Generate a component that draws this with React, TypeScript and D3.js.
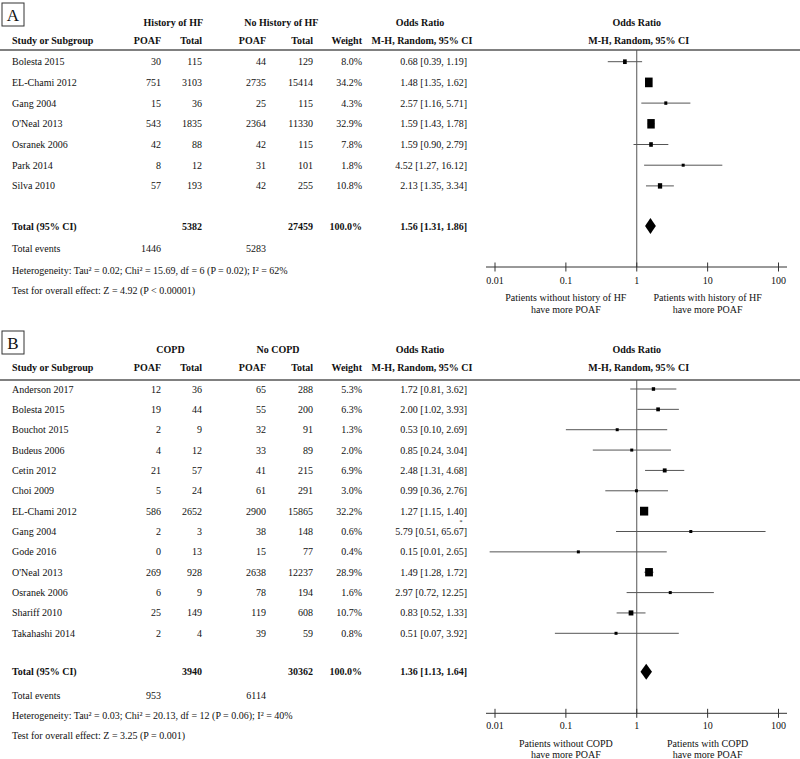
import React from "react";
import * as d3 from "d3";

// ---------- Panel A data ----------
const studiesA = ["Bolesta 2015", "EL-Chami 2012", "Gang 2004", "O'Neal 2013", "Osranek 2006", "Park 2014", "Silva 2010"];
const eventsExpA = [30, 751, 15, 543, 42, 8, 57];
const totalExpA = [115, 3103, 36, 1835, 88, 12, 193];
const eventsCtlA = [44, 2735, 25, 2364, 42, 31, 42];
const totalCtlA = [129, 15414, 115, 11330, 115, 101, 255];
const weightA = [8.0, 34.2, 4.3, 32.9, 7.8, 1.8, 10.8];
const orA = [0.68, 1.48, 2.57, 1.59, 1.59, 4.52, 2.13];
const lowA = [0.39, 1.35, 1.16, 1.43, 0.9, 1.27, 1.35];
const highA = [1.19, 1.62, 5.71, 1.78, 2.79, 16.12, 3.34];
const pooledA = { or: 1.56, low: 1.31, high: 1.86, nExp: 5382, nCtl: 27459, evExp: 1446, evCtl: 5283 };
const hetA = "Heterogeneity: Tau² = 0.02; Chi² = 15.69, df = 6 (P = 0.02); I² = 62%";
const testA = "Test for overall effect: Z = 4.92 (P < 0.00001)";

// ---------- Panel B data ----------
const studiesB = ["Anderson 2017", "Bolesta 2015", "Bouchot 2015", "Budeus 2006", "Cetin 2012", "Choi 2009", "EL-Chami 2012", "Gang 2004", "Gode 2016", "O'Neal 2013", "Osranek 2006", "Shariff 2010", "Takahashi 2014"];
const eventsExpB = [12, 19, 2, 4, 21, 5, 586, 2, 0, 269, 6, 25, 2];
const totalExpB = [36, 44, 9, 12, 57, 24, 2652, 3, 13, 928, 9, 149, 4];
const eventsCtlB = [65, 55, 32, 33, 41, 61, 2900, 38, 15, 2638, 78, 119, 39];
const totalCtlB = [288, 200, 91, 89, 215, 291, 15865, 148, 77, 12237, 194, 608, 59];
const weightB = [5.3, 6.3, 1.3, 2.0, 6.9, 3.0, 32.2, 0.6, 0.4, 28.9, 1.6, 10.7, 0.8];
const orB = [1.72, 2.0, 0.53, 0.85, 2.48, 0.99, 1.27, 5.79, 0.15, 1.49, 2.97, 0.83, 0.51];
const lowB = [0.81, 1.02, 0.1, 0.24, 1.31, 0.36, 1.15, 0.51, 0.0084, 1.28, 0.72, 0.52, 0.07];
const highB = [3.62, 3.93, 2.69, 3.04, 4.68, 2.76, 1.4, 65.67, 2.65, 1.72, 12.25, 1.33, 3.92];
const pooledB = { or: 1.36, low: 1.13, high: 1.64, nExp: 3940, nCtl: 30362, evExp: 953, evCtl: 6114 };
const hetB = "Heterogeneity: Tau² = 0.03; Chi² = 20.13, df = 12 (P = 0.06); I² = 40%";
const testB = "Test for overall effect: Z = 3.25 (P = 0.001)";

const axisTicks = [0.01, 0.1, 1, 10, 100];

const FONT = "'Liberation Serif', 'Times New Roman', Times, serif";
const INK = "#111";
const GREY = "#555";

const x = d3.scaleLog().domain([0.01, 100]).range([495, 778.5]);

const fmt = (v: number) => v.toFixed(2);
const ciText = (o: number, l: number, h: number) => `${fmt(o)} [${fmt(l)}, ${fmt(h)}]`;

type PanelProps = {
  letter: string;
  groupExp: string;
  groupCtl: string;
  groupExpX: number;
  groupCtlX: number;
  studies: string[];
  evE: number[];
  nE: number[];
  evC: number[];
  nC: number[];
  weight: number[];
  or: number[];
  low: number[];
  high: number[];
  pooled: { or: number; low: number; high: number; nExp: number; nCtl: number; evExp: number; evCtl: number };
  het: string;
  test: string;
  noteLeft: string;
  noteRight: string;
  g: {
    boxY: number; h1: number; h2: number; line: number; first: number; last: number;
    total: number; events: number; het: number; test: number; axis: number; tickLab: number; n1: number; n2: number;
    sqW: number; sqH: number;
  };
  marks?: { row: number; dx: number; dy: number }[];
};

const col = { study: 12, evE: 161, nE: 202, evC: 266, nC: 313, w: 362, ci: 467, ciHead: 420 };

function Panel(p: PanelProps) {
  const g = p.g;
  const y = d3.scalePoint<string>().domain(p.studies).range([g.first, g.last]);
  const T = (props: any) => (
    <text fontFamily={FONT} fontSize={10} fill={INK} dy="0.35em" {...props} />
  );
  const d = p.pooled;
  const dh = 8;
  const diamond = `M${x(d.low)},${g.total} L${x(d.or)},${g.total - dh} L${x(d.high)},${g.total} L${x(d.or)},${g.total + dh} Z`;
  return (
    <g>
      {/* panel letter box */}
      <rect x={2} y={g.boxY} width={22} height={23} fill="white" stroke="#333" strokeWidth={1} />
      <text x={13} y={g.boxY + 11.5} dy="0.36em" textAnchor="middle" fontFamily={FONT} fontSize={17} fill={INK}>{p.letter}</text>

      {/* header row 1 */}
      <T x={p.groupExpX} y={g.h1} textAnchor="middle" fontWeight="bold">{p.groupExp}</T>
      <T x={p.groupCtlX} y={g.h1} textAnchor="middle" fontWeight="bold">{p.groupCtl}</T>
      <T x={col.ciHead} y={g.h1} textAnchor="middle" fontWeight="bold">Odds Ratio</T>
      <T x={x(1)} y={g.h1} textAnchor="middle" fontWeight="bold">Odds Ratio</T>
      {/* header row 2 */}
      <T x={col.study} y={g.h2} fontWeight="bold">Study or Subgroup</T>
      <T x={col.evE} y={g.h2} textAnchor="end" fontWeight="bold">POAF</T>
      <T x={col.nE} y={g.h2} textAnchor="end" fontWeight="bold">Total</T>
      <T x={col.evC} y={g.h2} textAnchor="end" fontWeight="bold">POAF</T>
      <T x={col.nC} y={g.h2} textAnchor="end" fontWeight="bold">Total</T>
      <T x={col.w} y={g.h2} textAnchor="end" fontWeight="bold">Weight</T>
      <T x={col.ciHead + 2} y={g.h2} textAnchor="middle" fontWeight="bold">M-H, Random, 95% CI</T>
      <T x={x(1) + 2} y={g.h2} textAnchor="middle" fontWeight="bold">M-H, Random, 95% CI</T>

      <line x1={0} x2={800} y1={g.line} y2={g.line} stroke="#808080" strokeWidth={2} />

      {/* line of no effect */}
      <line x1={x(1)} x2={x(1)} y1={g.line} y2={g.axis} stroke={GREY} strokeWidth={1} />

      {/* study rows */}
      {p.studies.map((s, i) => {
        const yy = y(s) as number;
        const side = Math.max(3, g.sqW * Math.sqrt(p.weight[i]));
        const sh = Math.max(3, g.sqH * Math.sqrt(p.weight[i]));
        return (
          <g key={s + i}>
            <T x={col.study} y={yy}>{s}</T>
            <T x={col.evE} y={yy} textAnchor="end">{p.evE[i]}</T>
            <T x={col.nE} y={yy} textAnchor="end">{p.nE[i]}</T>
            <T x={col.evC} y={yy} textAnchor="end">{p.evC[i]}</T>
            <T x={col.nC} y={yy} textAnchor="end">{p.nC[i]}</T>
            <T x={col.w} y={yy} textAnchor="end">{p.weight[i].toFixed(1)}%</T>
            <T x={col.ci} y={yy} textAnchor="end">{ciText(p.or[i], p.low[i], p.high[i])}</T>
            <line x1={x(p.low[i])} x2={x(p.high[i])} y1={yy} y2={yy} stroke={GREY} strokeWidth={1} />
            <rect x={x(p.or[i]) - side / 2} y={yy - sh / 2} width={side} height={sh} fill="#000" />
          </g>
        );
      })}
      {(p.marks || []).map((m, k) => (
        <text key={"m" + k} x={col.ci + m.dx} y={(y(p.studies[m.row]) as number) + m.dy} dy="0.35em" textAnchor="middle" fontFamily={FONT} fontSize={6} fill={INK}>*</text>
      ))}

      {/* total row */}
      <T x={col.study} y={g.total} fontWeight="bold">Total (95% CI)</T>
      <T x={col.nE} y={g.total} textAnchor="end" fontWeight="bold">{d.nExp}</T>
      <T x={col.nC} y={g.total} textAnchor="end" fontWeight="bold">{d.nCtl}</T>
      <T x={col.w} y={g.total} textAnchor="end" fontWeight="bold">100.0%</T>
      <T x={col.ci} y={g.total} textAnchor="end" fontWeight="bold">{ciText(d.or, d.low, d.high)}</T>
      <path d={diamond} fill="#000" />

      <T x={col.study} y={g.events}>Total events</T>
      <T x={col.evE} y={g.events} textAnchor="end">{d.evExp}</T>
      <T x={col.evC} y={g.events} textAnchor="end">{d.evCtl}</T>
      <T x={col.study} y={g.het}>{p.het}</T>
      <T x={col.study} y={g.test}>{p.test}</T>

      {/* axis */}
      <line x1={486} x2={787} y1={g.axis} y2={g.axis} stroke="#333" strokeWidth={1} />
      {axisTicks.map((t) => (
        <g key={t}>
          <line x1={x(t)} x2={x(t)} y1={g.axis - 4.5} y2={g.axis + 4.5} stroke="#333" strokeWidth={1} />
          <T x={x(t)} y={g.tickLab} textAnchor="middle">{String(t)}</T>
        </g>
      ))}
      <T x={x(0.1)} y={g.n1} textAnchor="middle">{p.noteLeft}</T>
      <T x={x(0.1)} y={g.n2} textAnchor="middle">have more POAF</T>
      <T x={x(10)} y={g.n1} textAnchor="middle">{p.noteRight}</T>
      <T x={x(10)} y={g.n2} textAnchor="middle">have more POAF</T>
    </g>
  );
}

export default function App() {
  return (
    <svg width={800} height={759} style={{ position: "absolute", left: 0, top: 0, background: "#fff" }}>
      <rect x={0} y={0} width={800} height={759} fill="#fff" />
      <Panel
        letter="A"
        groupExp="History of HF"
        groupCtl="No History of HF"
        groupExpX={173.3}
        groupCtlX={281.3}
        studies={studiesA}
        evE={eventsExpA}
        nE={totalExpA}
        evC={eventsCtlA}
        nC={totalCtlA}
        weight={weightA}
        or={orA}
        low={lowA}
        high={highA}
        pooled={pooledA}
        het={hetA}
        test={testA}
        noteLeft="Patients without history of HF"
        noteRight="Patients with history of HF"
        g={{ boxY: 3, h1: 22, h2: 40, line: 50, first: 61.7, last: 185.9, total: 226, events: 248.3, het: 270, test: 290, axis: 267, tickLab: 280, n1: 297.5, n2: 309.5, sqW: 1.3, sqH: 1.65 }}
      />
      <Panel
        letter="B"
        groupExp="COPD"
        groupCtl="No COPD"
        groupExpX={170.5}
        groupCtlX={278}
        studies={studiesB}
        evE={eventsExpB}
        nE={totalExpB}
        evC={eventsCtlB}
        nC={totalCtlB}
        weight={weightB}
        or={orB}
        low={lowB}
        high={highB}
        pooled={pooledB}
        het={hetB}
        test={testB}
        noteLeft="Patients without COPD"
        noteRight="Patients with COPD"
        marks={[{ row: 7, dx: -6, dy: -10 }]}
        g={{ boxY: 331, h1: 349.3, h2: 367.3, line: 380, first: 389, last: 633.3, total: 671.7, events: 695, het: 715, test: 735, axis: 713.3, tickLab: 725.7, n1: 743.3, n2: 754.5, sqW: 1.45, sqH: 1.55 }}
      />
    </svg>
  );
}
